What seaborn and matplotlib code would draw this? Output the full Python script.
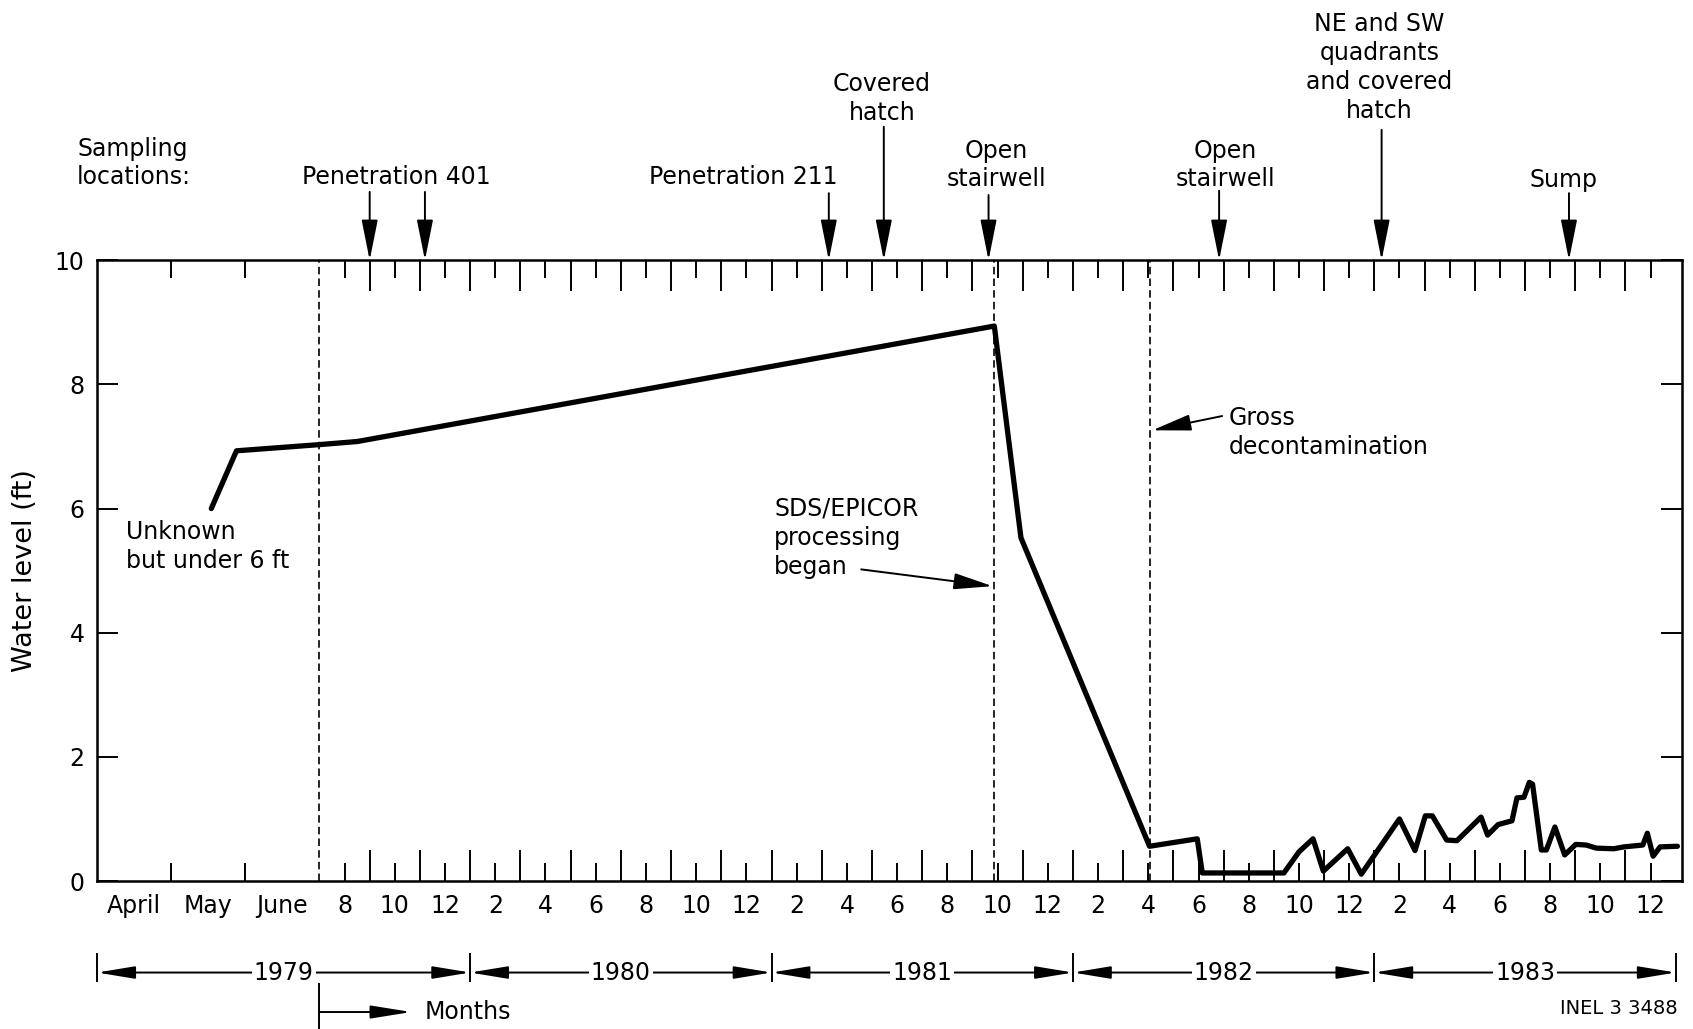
import numpy as np
import pandas as pd
import matplotlib
matplotlib.use("Agg")
import matplotlib.pyplot as plt
from matplotlib.patches import ArrowStyle
import seaborn as sns

# ---------------------------------------------------------------------------
# Data: time is counted in months elapsed since 1 January 1979
# (3.0 = 1 April 1979, 12.0 = 1 January 1980, ...)
# ---------------------------------------------------------------------------
month = [4.54, 4.88, 6.00, 7.51, 32.87, 33.93, 39.05, 40.95,
         41.15, 44.40, 45.00, 45.56, 45.97, 46.94, 47.48, 49.00, 49.62, 50.03,
         50.31, 50.88, 51.29, 52.25, 52.51, 52.93, 53.48, 53.68, 53.96, 54.17,
         54.30, 54.65, 54.85, 55.19, 55.58, 56.02, 56.43, 56.84, 57.53, 57.94,
         58.69, 58.87, 59.10, 59.38, 60.07]
water_level_ft = [6.00, 6.93, 7.03, 7.08, 8.94, 5.53, 0.56, 0.68,
                  0.13, 0.13, 0.47, 0.68, 0.16, 0.52, 0.11, 1.00, 0.49, 1.05,
                  1.05, 0.66, 0.65, 1.03, 0.74, 0.91, 0.97, 1.34, 1.35, 1.59,
                  1.56, 0.50, 0.50, 0.87, 0.42, 0.59, 0.58, 0.53, 0.52, 0.55,
                  0.58, 0.77, 0.40, 0.55, 0.56]

# Sampling locations and the months they were sampled
sampling_sites = ["Penetration 401", "Penetration 211", "Covered\nhatch",
                  "Open\nstairwell", "Open\nstairwell",
                  "NE and SW\nquadrants\nand covered\nhatch", "Sump"]
sampling_months = [[8.0, 10.2], [26.28], [28.47], [32.64], [41.82], [48.29], [55.75]]

# Events marked with dashed lines
monthly_scale_start = 6.0      # 1 July 1979
sds_epicor_start = 32.87
gross_decon_start = 39.05

years = ["1979", "1980", "1981", "1982", "1983"]
year_first_month = [3, 12, 24, 36, 48]
year_last_month = [12, 24, 36, 48, 60]

early_month_names = ["April", "May", "June"]

# ---------------------------------------------------------------------------
# Axis scale: April-June 1979 drawn stretched, monthly scale afterwards
# ---------------------------------------------------------------------------
STRETCH = 2.95


def fwd(t):
    t = np.asarray(t, dtype=float)
    return np.where(t < monthly_scale_start,
                    monthly_scale_start - (monthly_scale_start - t) * STRETCH, t)


def inv(d):
    d = np.asarray(d, dtype=float)
    return np.where(d < monthly_scale_start,
                    monthly_scale_start - (monthly_scale_start - d) / STRETCH, d)


sns.set_style("white")
plt.rcParams["font.family"] = ["DejaVu Sans"]
plt.rcParams["text.color"] = "black"
plt.rcParams["axes.labelcolor"] = "black"
plt.rcParams["xtick.color"] = "black"
plt.rcParams["ytick.color"] = "black"

FS = 17

fig = plt.figure(figsize=(16.93, 10.29), dpi=100)
ax = fig.add_axes([0.0574, 0.1438, 0.9361, 0.6033])

df = pd.DataFrame({"month": month, "level": water_level_ft})
sns.lineplot(data=df, x="month", y="level", sort=False, estimator=None,
             color="black", lw=3.8, ax=ax)

ax.set_xscale("function", functions=(fwd, inv))
ax.set_xlim(3.0, 60.25)
ax.set_ylim(0, 10)

for sp in ax.spines.values():
    sp.set_visible(True)
    sp.set_color("black")
    sp.set_linewidth(1.8)

# x ticks: labels under even months, short ticks there, long ticks between
num_months = list(range(7, 60, 2))
major_pos = [3.5, 4, 4.5, 5, 5.5] + num_months
major_lab = [early_month_names[0], "", early_month_names[1], "", early_month_names[2]] + \
            [str(t % 12 + 1) for t in num_months]
ax.set_xticks(major_pos, major_lab)
ax.set_xticks(list(range(8, 60, 2)), minor=True)
ax.tick_params(axis="x", which="major", direction="in", length=13, width=1.4,
               top=True, bottom=True, pad=9, labelsize=FS)
ax.tick_params(axis="x", which="minor", direction="in", length=22, width=1.4,
               top=True, bottom=True)
ax.set_yticks([0, 2, 4, 6, 8, 10])
ax.tick_params(axis="y", which="major", direction="in", length=15, width=1.4,
               left=True, right=True, labelright=False, pad=9, labelsize=FS)

locs = ax.xaxis.get_majorticklocs()
for loc, tk in zip(locs, ax.xaxis.get_major_ticks(len(locs))):
    if abs(loc - round(loc)) > 0.25:
        tk.tick1line.set_visible(False)
        tk.tick2line.set_visible(False)

ax.set_xlabel("")
ax.set_ylabel("Water level (ft)", fontsize=19.5, labelpad=12)

# Dashed event lines
dash = (0, (4.5, 2.5))
for t in (monthly_scale_start, sds_epicor_start, gross_decon_start):
    ax.axvline(t, color="black", lw=1.2, ls=dash, zorder=1)

xa = ax.get_xaxis_transform()


def head(length, halfwidth):
    return ArrowStyle("-|>", head_length=length / 10.0, head_width=halfwidth / 10.0)


# Sampling-location labels and arrows above the plot
label_x = [9.06, 22.87, 28.4, 32.94, 42.07, 48.21, 55.55]
label_y = [1.1345, 1.1345, 1.2606, 1.1534, 1.1534, 1.3104, 1.1287]
tail_y = [1.110, 1.108, 1.215, 1.105, 1.112, 1.210, 1.108]
for name, months_s, lx, ly, ty in zip(sampling_sites, sampling_months, label_x, label_y, tail_y):
    ax.text(lx, ly, name, transform=xa, ha="center", va="center",
            fontsize=FS, linespacing=1.25, clip_on=False)
    for t in months_s:
        ax.annotate("", xy=(t, 1.0), xytext=(t, ty), xycoords=xa, textcoords=xa,
                    annotation_clip=False,
                    arrowprops=dict(arrowstyle=head(25, 5.0), lw=1.4, color="black",
                                    shrinkA=0, shrinkB=0, mutation_scale=10))

ax.text(-0.0127, 1.1566, "Sampling\nlocations:", transform=ax.transAxes,
        ha="left", va="center", fontsize=FS, linespacing=1.25, clip_on=False)

# Annotations inside the plot
ax.text(3.39, 5.39, "Unknown\nbut under 6 ft", ha="left", va="center",
        fontsize=FS, linespacing=1.25)
ax.text(24.1, 5.53, "SDS/EPICOR\nprocessing\nbegan", ha="left", va="center",
        fontsize=FS, linespacing=1.3)
ax.annotate("", xy=(32.8, 4.75), xytext=(27.57, 5.02),
            arrowprops=dict(arrowstyle=head(24, 5.0), lw=1.4, color="black",
                            shrinkA=0, shrinkB=0, mutation_scale=10))
ax.text(42.2, 7.22, "Gross\ndecontamination", ha="left", va="center",
        fontsize=FS, linespacing=1.25)
ax.annotate("", xy=(39.16, 7.26), xytext=(41.94, 7.49),
            arrowprops=dict(arrowstyle=head(24, 5.0), lw=1.4, color="black",
                            shrinkA=0, shrinkB=0, mutation_scale=10))

# Year brackets below the month labels
row_y = -0.1474
for name, a, b in zip(years, year_first_month, year_last_month):
    mid = float(inv((fwd(a) + fwd(b)) / 2.0))
    for end in (a, b):
        ax.annotate("", xy=(end, row_y), xytext=(mid, row_y), xycoords=xa, textcoords=xa,
                    annotation_clip=False,
                    arrowprops=dict(arrowstyle=head(23, 3.8), lw=1.4, color="black",
                                    shrinkA=0, shrinkB=0, mutation_scale=10))
    ax.text(mid, row_y, name, transform=xa, ha="center", va="center", fontsize=FS,
            clip_on=False, zorder=5,
            bbox=dict(facecolor="white", edgecolor="none", pad=1.5))
ax.vlines(year_first_month + [year_last_month[-1]], -0.163, -0.116, transform=xa,
          colors="black", lw=1.4, clip_on=False)

# "Months" marker for the start of the monthly scale
ax.vlines([monthly_scale_start], -0.238, -0.164, transform=xa, colors="black",
          lw=1.4, clip_on=False)
ax.annotate("", xy=(9.66, -0.211), xytext=(monthly_scale_start, -0.211),
            xycoords=xa, textcoords=xa, annotation_clip=False,
            arrowprops=dict(arrowstyle=head(25, 4.0), lw=1.4, color="black",
                            shrinkA=0, shrinkB=0, mutation_scale=10))
ax.text(10.2, -0.211, "Months", transform=xa, ha="left", va="center",
        fontsize=FS, clip_on=False)

fig.text(0.991, 0.0204, "INEL 3 3488", ha="right", va="center", fontsize=14)

fig.savefig("out.png", dpi=100, facecolor="white")
